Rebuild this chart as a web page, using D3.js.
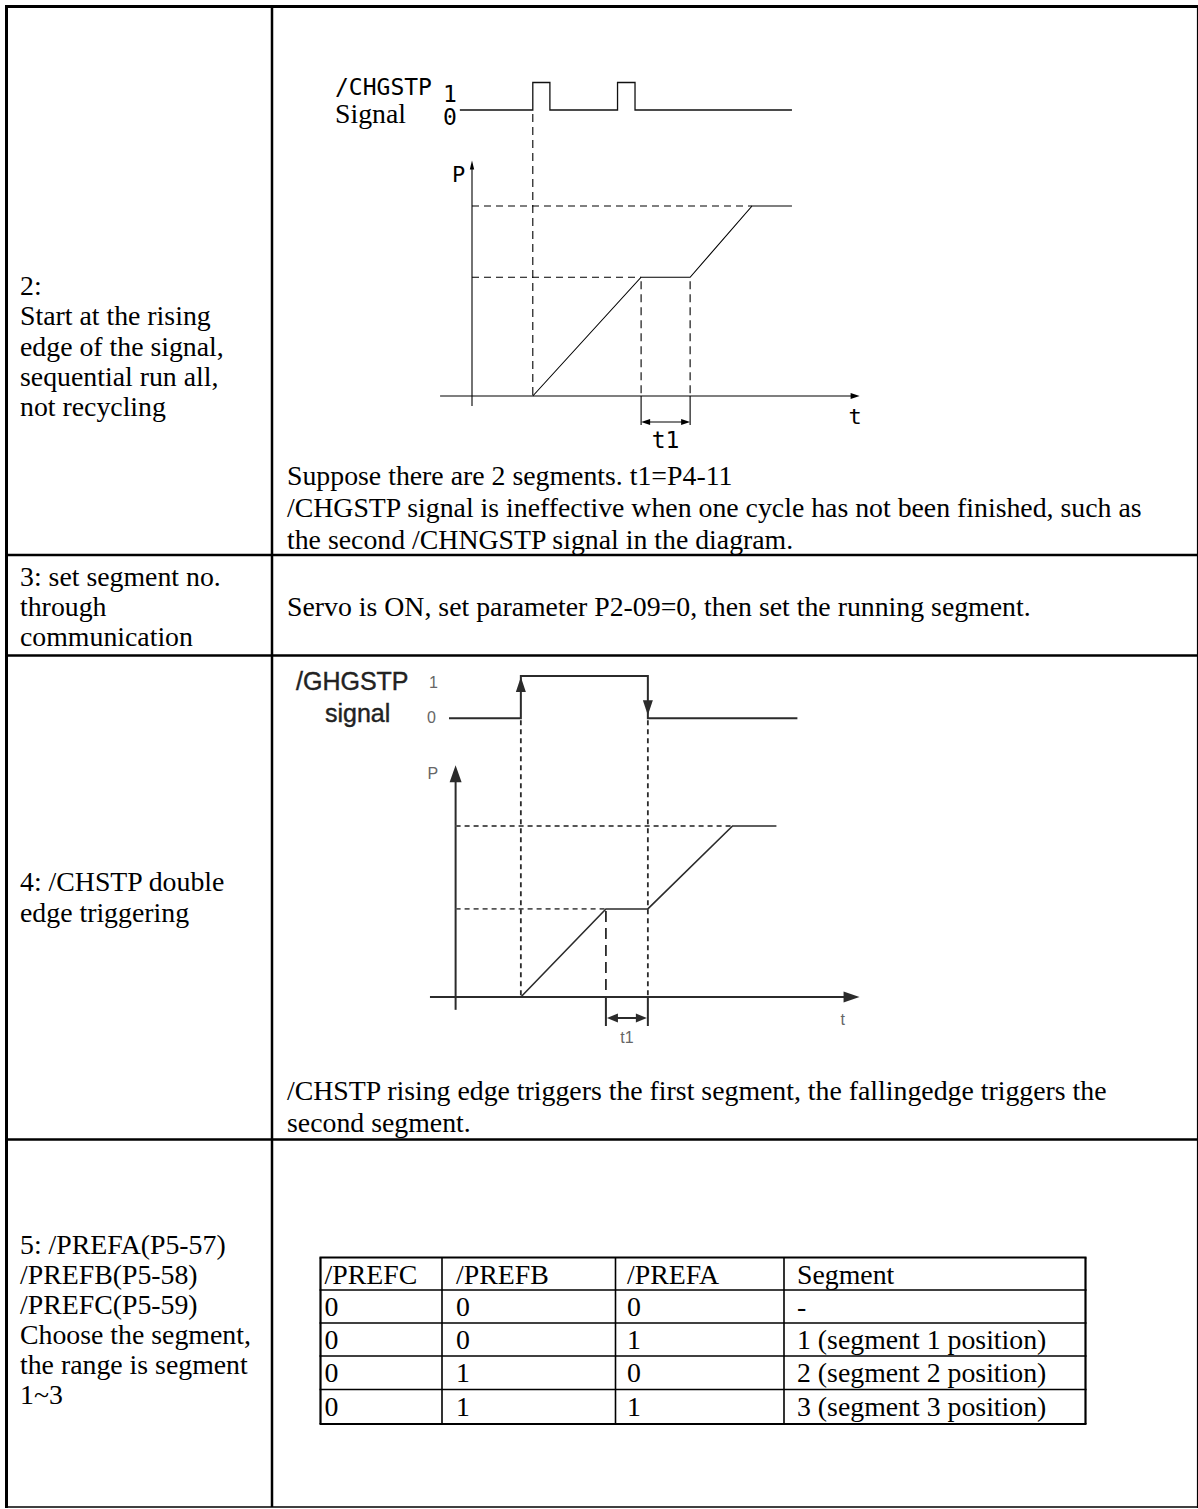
<!DOCTYPE html>
<html>
<head>
<meta charset="utf-8">
<script src="https://cdn.jsdelivr.net/npm/d3@7"></script>
<style>
  html, body { margin: 0; padding: 0; background: #fff; }
  svg { display: block; }
</style>
</head>
<body>
<script>
// ---------------- DATA ----------------
const rowLabels = [
  ["2:", "Start at the rising", "edge of the signal,", "sequential run all,", "not recycling"],
  ["3: set segment no.", "through", "communication"],
  ["4: /CHSTP double", "edge triggering"],
  ["5: /PREFA(P5-57)", "/PREFB(P5-58)", "/PREFC(P5-59)", "Choose the segment,", "the range is segment", "1~3"]
];
const rowNotes = [
  ["Suppose there are 2 segments. t1=P4-11",
   "/CHGSTP signal is ineffective when one cycle has not been finished, such as",
   "the second /CHNGSTP signal in the diagram."],
  ["Servo is ON, set parameter P2-09=0, then set the running segment."],
  ["/CHSTP rising edge triggers the first segment, the fallingedge triggers the",
   "second segment."],
  []
];
const prefHeader = ["/PREFC", "/PREFB", "/PREFA", "Segment"];
const prefRows = [
  ["0", "0", "0", "-"],
  ["0", "0", "1", "1 (segment 1 position)"],
  ["0", "1", "0", "2 (segment 2 position)"],
  ["0", "1", "1", "3 (segment 3 position)"]
];

// Diagram 1 (mode 2): time units 0..100, signal level 0/1, position in segments
const sig1Name = ["/CHGSTP", "Signal"];
const sig1Ticks = ["1", "0"];
const sig1 = [[-3.2,0],[16,0],[16,1],[20.5,1],[20.5,0],[38.3,0],[38.3,1],[42.9,1],[42.9,0],[84.2,0]];
const pos1 = [[16,0],[44.5,1.25],[57.4,1.25],[73.7,2],[84.2,2]];
const levels1 = [[1.25,44.5],[2,73.7]];
const t1Span1 = [44.5, 57.4];
const tAxis1 = [-8.4, 102];
const pAxis1 = [-0.105, 2.48];

// Diagram 2 (mode 4)
const sig2Name = ["/GHGSTP", "signal"];
const sig2Ticks = ["1", "0"];
const sig2 = [[-1.7,0],[16.8,0],[16.8,1],[49.5,1],[49.5,0],[88,0]];
const pos2 = [[16.8,0],[38.7,1.03],[49.5,1.03],[71.3,2],[82.6,2]];
const levels2 = [[1.03,38.7],[2,71.3]];
const t1Span2 = [38.7, 49.5];
const tAxis2 = [-6.6, 104];
const pAxis2 = [-0.15, 2.71];
const axisLabels = ["P", "t", "t1"];

// ---------------- LAYOUT ----------------
(function () {
const W = 1198, H = 1509;
const serif = "'Times New Roman', 'Liberation Serif', serif";
const FS = 27.8;
const svg = d3.select("body").append("svg").attr("width", W).attr("height", H);
svg.append("rect").attr("width", W).attr("height", H).attr("fill", "#fff");

// table grid
const grid = svg.append("g").attr("stroke", "#000").attr("fill", "none");
const colX = 272, gLeft = 6.5, gRight = 1197.5, gTop = 6.5, gBottom = 1507;
const rowY = [555, 655.5, 1139.5];
grid.append("line").attr("x1", gLeft).attr("x2", gLeft).attr("y1", 5).attr("y2", gBottom + 1).attr("stroke-width", 3);
grid.append("line").attr("x1", 5).attr("x2", gRight + 0.5).attr("y1", gTop).attr("y2", gTop).attr("stroke-width", 3);
grid.append("line").attr("x1", gRight).attr("x2", gRight).attr("y1", gTop).attr("y2", gBottom + 1).attr("stroke-width", 1.2);
grid.append("line").attr("x1", 5).attr("x2", gRight + 0.5).attr("y1", gBottom).attr("y2", gBottom).attr("stroke-width", 1.6);
grid.append("line").attr("x1", colX).attr("x2", colX).attr("y1", gTop).attr("y2", gBottom).attr("stroke-width", 2.5);
rowY.forEach(y => grid.append("line").attr("x1", 5).attr("x2", gRight + 0.5).attr("y1", y).attr("y2", y).attr("stroke-width", 2.6));

// text helpers
function lines(arr, x, y0, lh, opts = {}) {
  svg.append("g").selectAll("text").data(arr).join("text")
    .attr("x", x).attr("y", (d, i) => y0 + i * lh)
    .attr("font-family", opts.family || serif)
    .attr("font-size", opts.size || FS)
    .attr("fill", opts.fill || "#000")
    .text(d => d);
}
const labelStarts = [295, 586, 891, 1254];
const labelLH = [30.3, 30, 31, 30];
rowLabels.forEach((arr, i) => lines(arr, 20, labelStarts[i], labelLH[i]));
const noteStarts = [485, 616, 1100, 0];
rowNotes.forEach((arr, i) => lines(arr, 287, noteStarts[i], 31.8));

// inner PREF table
const tX = [320.5, 442, 615.5, 784, 1085.5];
const tY = [1257.5, 1290, 1323, 1356, 1389.5, 1424];
const txtX = [324.5, 456, 627, 797];
const tg = svg.append("g").attr("stroke", "#000");
tY.forEach((y, i) => tg.append("line").attr("x1", tX[0] - 1).attr("x2", tX[4] + 1).attr("y1", y).attr("y2", y)
  .attr("stroke-width", (i === 0 || i === tY.length - 1) ? 2.2 : 1.6));
tX.forEach((x, i) => tg.append("line").attr("x1", x).attr("x2", x).attr("y1", tY[0]).attr("y2", tY[5])
  .attr("stroke-width", (i === 0 || i === tX.length - 1) ? 2.2 : 1.6));
[prefHeader].concat(prefRows).forEach((row, r) => {
  svg.append("g").selectAll("text").data(row).join("text")
    .attr("x", (d, c) => txtX[c]).attr("y", tY[r] + 26)
    .attr("font-family", serif).attr("font-size", FS).text(d => d);
});

// arrow helper
function arrowHead(g, x, y, dir, len, half, fill) {
  let pts;
  if (dir === "up") pts = [[x, y], [x - half, y + len], [x + half, y + len]];
  else if (dir === "down") pts = [[x, y], [x - half, y - len], [x + half, y - len]];
  else if (dir === "right") pts = [[x, y], [x - len, y - half], [x - len, y + half]];
  else pts = [[x, y], [x + len, y - half], [x + len, y + half]];
  g.append("path").attr("d", "M" + pts.map(p => p.join(",")).join("L") + "Z")
    .attr("fill", fill).attr("stroke", "none");
}

// ---------------- DIAGRAM 1 ----------------
(function () {
  const g = svg.append("g");
  const x = d3.scaleLinear().domain([0, 100]).range([472, 852]);
  const ys = d3.scaleLinear().domain([0, 1]).range([110, 82.5]);
  const yp = d3.scaleLinear().domain([0, 2]).range([396, 206]);
  const col = "#000", sw = 1.1;
  const mono = "'DejaVu Sans Mono', monospace";

  g.append("text").attr("x", 335).attr("y", 95).attr("font-family", mono).attr("font-size", 23).text(sig1Name[0]);
  g.append("text").attr("x", 335).attr("y", 123).attr("font-family", serif).attr("font-size", FS).text(sig1Name[1]);
  g.append("text").attr("x", 443).attr("y", 102).attr("font-family", mono).attr("font-size", 23).text(sig1Ticks[0]);
  g.append("text").attr("x", 443).attr("y", 125).attr("font-family", mono).attr("font-size", 23).text(sig1Ticks[1]);

  g.append("path").datum(sig1).attr("d", d3.line().x(d => x(d[0])).y(d => ys(d[1])))
    .attr("fill", "none").attr("stroke", "#111").attr("stroke-width", 1.3);

  g.append("line").attr("x1", x(0)).attr("x2", x(0)).attr("y1", yp(pAxis1[0])).attr("y2", yp(pAxis1[1]) + 6)
    .attr("stroke", col).attr("stroke-width", sw);
  arrowHead(g, x(0), yp(pAxis1[1]), "up", 9, 2.2, col);
  g.append("line").attr("x1", x(tAxis1[0])).attr("x2", x(tAxis1[1]) - 6).attr("y1", yp(0)).attr("y2", yp(0))
    .attr("stroke", col).attr("stroke-width", sw);
  arrowHead(g, x(tAxis1[1]), yp(0), "right", 9, 3, col);
  g.append("text").attr("x", x(0) - 20).attr("y", yp(pAxis1[1]) + 22).attr("font-family", mono).attr("font-size", 22).text(axisLabels[0]);
  g.append("text").attr("x", x(tAxis1[1]) - 11).attr("y", yp(0) + 28).attr("font-family", mono).attr("font-size", 22).text(axisLabels[1]);

  const dash = "7,5";
  levels1.forEach(([lv, t]) => g.append("line").attr("x1", x(0)).attr("x2", x(t)).attr("y1", yp(lv)).attr("y2", yp(lv))
    .attr("stroke", col).attr("stroke-width", sw).attr("stroke-dasharray", dash));
  g.append("line").attr("x1", x(sig1[1][0])).attr("x2", x(sig1[1][0])).attr("y1", ys(0) + 4).attr("y2", yp(0))
    .attr("stroke", col).attr("stroke-width", sw).attr("stroke-dasharray", "8,5");
  t1Span1.forEach(t => {
    g.append("line").attr("x1", x(t)).attr("x2", x(t)).attr("y1", yp(levels1[0][0]) + 4).attr("y2", yp(0))
      .attr("stroke", col).attr("stroke-width", sw).attr("stroke-dasharray", "8,5");
    g.append("line").attr("x1", x(t)).attr("x2", x(t)).attr("y1", yp(0)).attr("y2", yp(0) + 29)
      .attr("stroke", col).attr("stroke-width", sw);
  });
  const dy = yp(0) + 26;
  g.append("line").attr("x1", x(t1Span1[0]) + 6).attr("x2", x(t1Span1[1]) - 6).attr("y1", dy).attr("y2", dy)
    .attr("stroke", col).attr("stroke-width", sw);
  arrowHead(g, x(t1Span1[0]), dy, "left", 9, 3, col);
  arrowHead(g, x(t1Span1[1]), dy, "right", 9, 3, col);
  g.append("text").attr("x", (x(t1Span1[0]) + x(t1Span1[1])) / 2).attr("y", 448).attr("text-anchor", "middle")
    .attr("font-family", mono).attr("font-size", 23).text(axisLabels[2]);

  g.append("path").datum(pos1).attr("d", d3.line().x(d => x(d[0])).y(d => yp(d[1])))
    .attr("fill", "none").attr("stroke", col).attr("stroke-width", sw);
})();

// ---------------- DIAGRAM 2 ----------------
(function () {
  const g = svg.append("g");
  const x = d3.scaleLinear().domain([0, 100]).range([455.6, 844]);
  const ys = d3.scaleLinear().domain([0, 1]).range([718.3, 676]);
  const yp = d3.scaleLinear().domain([0, 2]).range([997, 826]);
  const col = "#2b2b2b", sw = 2;
  const sans = "'Liberation Sans', Arial, sans-serif";

  g.append("text").attr("x", 296).attr("y", 690).attr("font-family", sans).attr("font-size", 25).attr("fill", "#222")
    .attr("stroke", "#222").attr("stroke-width", 0.4).text(sig2Name[0]);
  g.append("text").attr("x", 325).attr("y", 722).attr("font-family", sans).attr("font-size", 25).attr("fill", "#222")
    .attr("stroke", "#222").attr("stroke-width", 0.4).text(sig2Name[1]);
  g.append("text").attr("x", 429).attr("y", 688).attr("font-family", sans).attr("font-size", 16).attr("fill", "#666").text(sig2Ticks[0]);
  g.append("text").attr("x", 427).attr("y", 723).attr("font-family", sans).attr("font-size", 16).attr("fill", "#666").text(sig2Ticks[1]);

  g.append("path").datum(sig2).attr("d", d3.line().x(d => x(d[0])).y(d => ys(d[1])))
    .attr("fill", "none").attr("stroke", col).attr("stroke-width", sw);
  arrowHead(g, x(sig2[2][0]), ys(1) + 1, "up", 15, 5, col);
  arrowHead(g, x(sig2[4][0]), ys(0) - 3, "down", 15, 5, col);

  g.append("line").attr("x1", x(0)).attr("x2", x(0)).attr("y1", yp(pAxis2[0])).attr("y2", yp(pAxis2[1]) + 10)
    .attr("stroke", col).attr("stroke-width", sw);
  arrowHead(g, x(0), yp(pAxis2[1]), "up", 17, 6, col);
  g.append("line").attr("x1", x(tAxis2[0])).attr("x2", x(tAxis2[1]) - 10).attr("y1", yp(0)).attr("y2", yp(0))
    .attr("stroke", col).attr("stroke-width", sw);
  arrowHead(g, x(tAxis2[1]), yp(0), "right", 16, 5.5, col);
  g.append("text").attr("x", x(0) - 28).attr("y", yp(pAxis2[1]) + 14).attr("font-family", sans).attr("font-size", 16).attr("fill", "#666").text(axisLabels[0]);
  g.append("text").attr("x", x(tAxis2[1]) - 19).attr("y", yp(0) + 28).attr("font-family", sans).attr("font-size", 16).attr("fill", "#666").text(axisLabels[1]);

  const dash = "5,4";
  levels2.forEach(([lv, t]) => g.append("line").attr("x1", x(0)).attr("x2", x(t)).attr("y1", yp(lv)).attr("y2", yp(lv))
    .attr("stroke", "#555").attr("stroke-width", 1.8).attr("stroke-dasharray", dash));
  [sig2[1][0], sig2[4][0]].forEach(t => g.append("line").attr("x1", x(t)).attr("x2", x(t)).attr("y1", ys(0) + 2).attr("y2", yp(0))
    .attr("stroke", col).attr("stroke-width", 1.8).attr("stroke-dasharray", dash));
  g.append("line").attr("x1", x(t1Span2[0])).attr("x2", x(t1Span2[0])).attr("y1", yp(levels2[0][0]) + 2).attr("y2", yp(0))
    .attr("stroke", col).attr("stroke-width", 1.8).attr("stroke-dasharray", "11,6");
  t1Span2.forEach(t => g.append("line").attr("x1", x(t)).attr("x2", x(t)).attr("y1", yp(0)).attr("y2", yp(0) + 29)
    .attr("stroke", col).attr("stroke-width", sw));
  const dy = yp(0) + 21;
  g.append("line").attr("x1", x(t1Span2[0]) + 8).attr("x2", x(t1Span2[1]) - 8).attr("y1", dy).attr("y2", dy)
    .attr("stroke", col).attr("stroke-width", sw);
  arrowHead(g, x(t1Span2[0]) + 1, dy, "left", 11, 4.5, col);
  arrowHead(g, x(t1Span2[1]) - 1, dy, "right", 11, 4.5, col);
  g.append("text").attr("x", (x(t1Span2[0]) + x(t1Span2[1])) / 2).attr("y", 1043).attr("text-anchor", "middle")
    .attr("font-family", sans).attr("font-size", 16).attr("fill", "#666").text(axisLabels[2]);

  g.append("path").datum(pos2).attr("d", d3.line().x(d => x(d[0])).y(d => yp(d[1])))
    .attr("fill", "none").attr("stroke", col).attr("stroke-width", 1.6);
})();
})();
</script>
</body>
</html>
